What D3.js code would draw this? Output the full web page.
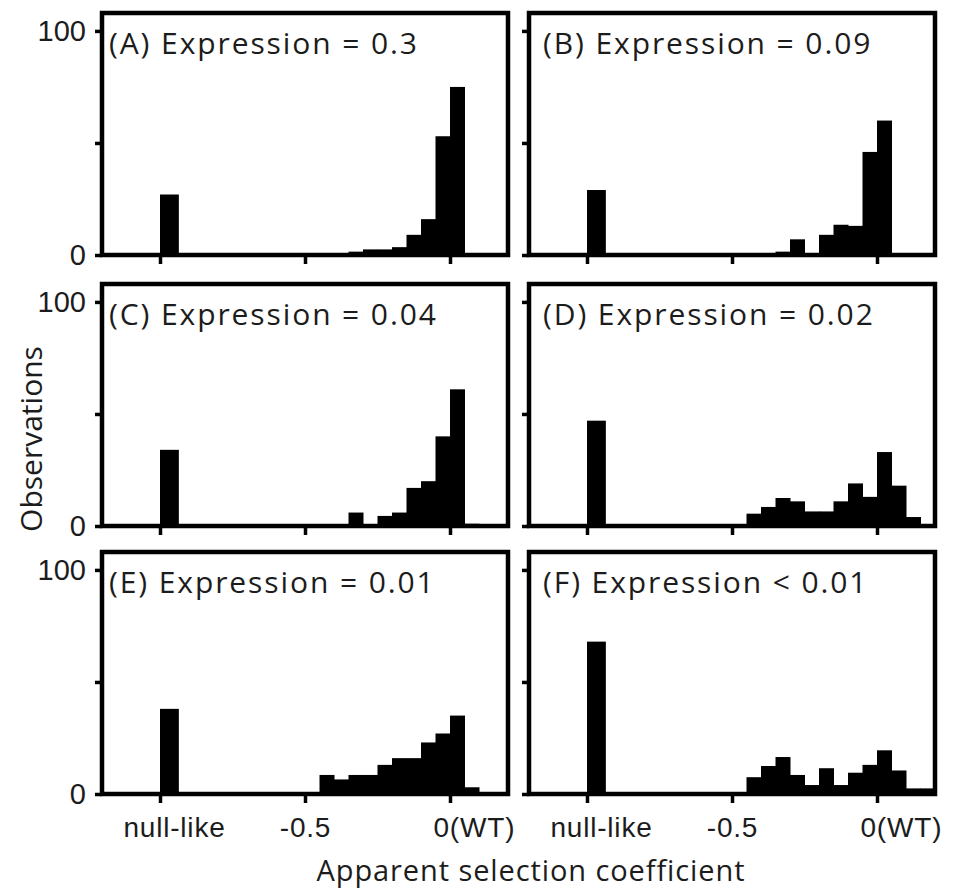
<!DOCTYPE html>
<html>
<head>
<meta charset="utf-8">
<script src="https://cdn.jsdelivr.net/npm/d3@7"></script>
<style>
  body { margin: 0; background: #fff; }
  svg { display: block; font-family: "Open Sans", sans-serif; }
</style>
</head>
<body>
<svg id="chart" width="954" height="888"></svg>
<script>
// bin left edges (width 0.05) for the selection-coefficient histogram
const binStarts = [-0.5, -0.45, -0.4, -0.35, -0.3, -0.25, -0.2, -0.15, -0.1, -0.05, 0, 0.05, 0.1, 0.15];

const titles = [
  "(A) Expression = 0.3",
  "(B) Expression = 0.09",
  "(C) Expression = 0.04",
  "(D) Expression = 0.02",
  "(E) Expression = 0.01",
  "(F) Expression < 0.01"
];

// height of the separate "null-like" bar in each panel
const nullCounts = [27, 29, 34, 47, 38, 68];

const countsA = [0, 0, 0.5, 1.5, 2.5, 2.5, 3.5, 9, 16, 53, 75, 0, 0, 0];
const countsB = [0, 0, 0, 1.5, 7, 0.5, 9, 13.5, 13, 46, 60, 0, 0, 0];
const countsC = [0, 0, 0, 6, 0, 4.5, 6, 17, 20, 40, 61, 1, 0, 0];
const countsD = [0, 5.5, 8.5, 12.5, 11, 6.5, 6.5, 11, 19, 13, 33, 18, 4, 0];
const countsE = [0, 8.5, 6.5, 8.5, 8.5, 13, 16, 16, 23, 27, 35, 3, 0, 0];
const countsF = [0, 7.5, 12.5, 16.5, 8.5, 4, 11.5, 4, 9.5, 13, 19.5, 10.5, 2.5, 2.5];

const xTickValues = [-1, -0.5, 0];
const xTickLabels = ["null-like", "-0.5", "0(WT)"];
const yTickValues = [0, 50, 100];
const yTickLabels = ["0", "", "100"];

const series = [countsA, countsB, countsC, countsD, countsE, countsF];

const BIN_W = 0.05, NULL_X = -1, NULL_W = 0.065;
const COL_X = [102, 529], ROW_Y = [13, 284, 552];
const PW = 406, PH = 242;
const INK = "#1c1c1c";

const svg = d3.select('#chart');

series.forEach((counts, i) => {
  const col = i % 2, row = Math.floor(i / 2);
  const cx = COL_X[col], cy = ROW_Y[row];

  const x = d3.scaleLinear().domain([-1.2, 0.2]).range([cx, cx + PW]);
  const y = d3.scaleLinear().domain([0, 108]).range([cy + PH, cy]);

  const g = svg.append('g').attr('class', 'panel');

  const bins = binStarts.map((x0, k) => ({ x0: x0, v: counts[k] })).filter(d => d.v > 0);

  g.selectAll('rect.bin').data(bins)
    .enter().append('rect')
    .attr('class', 'bin')
    .attr('x', d => x(d.x0))
    .attr('width', d => x(d.x0 + BIN_W) - x(d.x0) + 0.5)
    .attr('y', d => y(d.v))
    .attr('height', d => y(0) - y(d.v))
    .attr('fill', '#000');

  g.append('rect')
    .attr('x', x(NULL_X))
    .attr('width', x(NULL_X + NULL_W) - x(NULL_X))
    .attr('y', y(nullCounts[i]))
    .attr('height', y(0) - y(nullCounts[i]))
    .attr('fill', '#000');

  const yAxis = d3.axisLeft(y).tickValues(yTickValues).tickSize(7).tickPadding(9)
    .tickFormat((d, k) => col === 0 ? yTickLabels[k] : "");
  const yG = g.append('g').attr('transform', `translate(${cx},0)`).call(yAxis);
  yG.select('.domain').remove();
  yG.selectAll('line').attr('stroke', '#000').attr('stroke-width', 3.5);
  yG.selectAll('text').style('font-size', '29px').attr('fill', INK);

  const xAxis = d3.axisBottom(x).tickValues(xTickValues).tickSize(9)
    .tickFormat((d, k) => row === 2 ? xTickLabels[k] : "");
  const xG = g.append('g').attr('transform', `translate(0,${y(0)})`).call(xAxis);
  xG.select('.domain').remove();
  xG.selectAll('line').attr('stroke', '#000').attr('stroke-width', 3.5);
  xG.selectAll('text')
    .style('font-size', '28px')
    .style('letter-spacing', '0.8px')
    .attr('fill', INK)
    .attr('y', 43).attr('dy', 0)
    .attr('text-anchor', (d, k) => k === 2 ? 'start' : 'middle')
    .attr('dx', (d, k) => k === 0 ? 14 : k === 2 ? -17 : 0);

  g.append('rect')
    .attr('x', cx).attr('y', cy)
    .attr('width', PW).attr('height', PH)
    .attr('fill', 'none')
    .attr('stroke', '#000')
    .attr('stroke-width', 4.5);

  g.append('text')
    .attr('x', cx + (col === 0 ? 7 : 14))
    .attr('y', cy + 41)
    .style('font-size', '30px')
    .style('letter-spacing', '1.9px')
    .attr('fill', INK)
    .text(titles[i]);
});

svg.append('text')
  .attr('x', 531).attr('y', 881)
  .attr('text-anchor', 'middle')
  .style('font-size', '29px')
  .style('letter-spacing', '0.9px')
  .attr('fill', INK)
  .text("Apparent selection coefficient");

svg.append('text')
  .attr('transform', 'translate(42,439) rotate(-90)')
  .attr('text-anchor', 'middle')
  .style('font-size', '30px')
  .attr('fill', INK)
  .text("Observations");
</script>
</body>
</html>
